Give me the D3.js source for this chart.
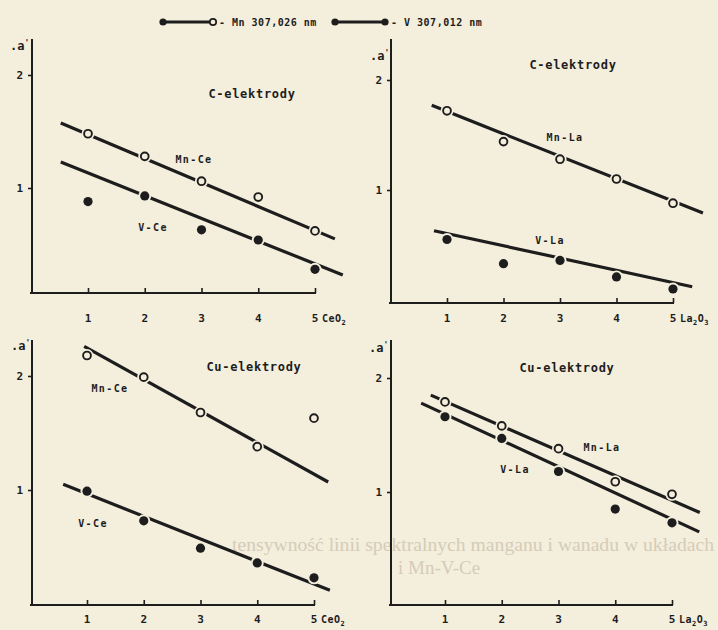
<!DOCTYPE html>
<html>
<head>
<meta charset="utf-8">
<script src="https://cdn.jsdelivr.net/npm/d3@7"></script>
<style>
  html, body { margin: 0; padding: 0; background: #f4eedc; }
  svg { display: block; }
  text { font-family: "DejaVu Sans Mono", monospace; font-weight: bold; fill: #1d1d1d; }
</style>
</head>
<body>
<script>
// values
var xValues = [1, 2, 3, 4, 5];
var yTicks = [1, 2];

var mnCeC  = [1.48, 1.28, 1.06, 0.92, 0.62];
var vCeC   = [0.88, 0.93, 0.63, 0.54, 0.28];
var mnLaC  = [1.72, 1.44, 1.28, 1.10, 0.88];
var vLaC   = [0.55, 0.33, 0.36, 0.21, 0.10];
var mnCeCu = [2.18, 1.99, 1.68, 1.38, 1.63];
var vCeCu  = [0.99, 0.73, 0.49, 0.36, 0.23];
var mnLaCu = [1.79, 1.58, 1.38, 1.09, 0.98];
var vLaCu  = [1.66, 1.47, 1.18, 0.85, 0.73];

// fitted straight lines, [x, y] at both ends
var mnCeCLine  = [[0.52, 1.575], [5.35, 0.55]];
var vCeCLine   = [[0.52, 1.23], [5.49, 0.23]];
var mnLaCLine  = [[0.73, 1.77], [5.53, 0.79]];
var vLaCLine   = [[0.77, 0.63], [5.34, 0.12]];
var mnCeCuLine = [[0.95, 2.26], [5.25, 1.07]];
var vCeCuLine  = [[0.58, 1.05], [5.28, 0.12]];
var mnLaCuLine = [[0.75, 1.85], [5.49, 0.82]];
var vLaCuLine  = [[0.58, 1.78], [5.48, 0.65]];

var legendLabels = ['- Mn 307,026 nm', '- V 307,012 nm'];

var w = 718, h = 630;
var ink = '#1d1d1d', paper = '#f4eedc';

var panels = [
  { xs: [88, 315], ys: [188, 75], ax: 32, top: 39, base: 293, labY: 322, oxide: ['CeO', '2'],
    title: 'C-elektrody', tpos: [252, 94],
    mn: mnCeC, v: vCeC, mnLine: mnCeCLine, vLine: vCeCLine,
    mnName: 'Mn-Ce', mnPos: [194, 159], vName: 'V-Ce', vPos: [153, 227], aPos: [10, 50] },
  { xs: [447, 673], ys: [190, 80], ax: 391, top: 39, base: 303, labY: 322, oxide: ['La', '2', 'O', '3'],
    title: 'C-elektrody', tpos: [573, 65],
    mn: mnLaC, v: vLaC, mnLine: mnLaCLine, vLine: vLaCLine,
    mnName: 'Mn-La', mnPos: [565, 137], vName: 'V-La', vPos: [550, 240], aPos: [370, 60] },
  { xs: [87, 314], ys: [490, 376], ax: 32, top: 340, base: 605, labY: 623, oxide: ['CeO', '2'],
    title: 'Cu-elektrody', tpos: [254, 367],
    mn: mnCeCu, v: vCeCu, mnLine: mnCeCuLine, vLine: vCeCuLine,
    mnName: 'Mn-Ce', mnPos: [110, 388], vName: 'V-Ce', vPos: [93, 523], aPos: [11, 350] },
  { xs: [445, 672], ys: [492, 378], ax: 391, top: 340, base: 605, labY: 623, oxide: ['La', '2', 'O', '3'],
    title: 'Cu-elektrody', tpos: [567, 368],
    mn: mnLaCu, v: vLaCu, mnLine: mnLaCuLine, vLine: vLaCuLine,
    mnName: 'Mn-La', mnPos: [602, 447], vName: 'V-La', vPos: [515, 469], aPos: [369, 352] }
];

var svg = d3.select(document.body)
            .append('svg')
            .attr('width', w)
            .attr('height', h);

svg.append('rect').attr('width', w).attr('height', h).attr('fill', paper);

// faint print-through from the facing page
var ghost = svg.append('g');
ghost.append('text')
    .attr('x', 232).attr('y', 551)
    .attr('textLength', 482)
    .attr('lengthAdjust', 'spacingAndGlyphs')
    .style('fill', '#d4ccb8')
    .style('font-family', '"Liberation Serif", serif')
    .style('font-weight', 'normal')
    .style('font-size', '19px')
    .text('tensywność linii spektralnych manganu i wanadu w układach');
ghost.append('text')
    .attr('x', 398).attr('y', 574)
    .style('fill', '#d4ccb8')
    .style('font-family', '"Liberation Serif", serif')
    .style('font-weight', 'normal')
    .style('font-size', '19px')
    .text('i Mn-V-Ce');

function marker(g, x, y, filled) {
    g.append('circle').attr('cx', x).attr('cy', y).attr('r', 6.5).attr('fill', paper);
    if (filled) {
        g.append('circle').attr('cx', x).attr('cy', y).attr('r', 4.6).attr('fill', ink);
    } else {
        g.append('circle').attr('cx', x).attr('cy', y).attr('r', 3.9)
            .attr('fill', paper).attr('stroke', ink).attr('stroke-width', 1.9);
    }
}

panels.forEach(function(p) {
    var g = svg.append('g');
    var x = d3.scaleLinear().domain([1, 5]).range(p.xs);
    var y = d3.scaleLinear().domain([1, 2]).range(p.ys);

    // axis lines
    g.append('line').attr('x1', p.ax).attr('x2', p.ax).attr('y1', p.top).attr('y2', p.base + 1)
        .attr('stroke', ink).attr('stroke-width', 2);
    g.append('line').attr('x1', p.ax - 2).attr('x2', x(5) + 1).attr('y1', p.base).attr('y2', p.base)
        .attr('stroke', ink).attr('stroke-width', 2);

    // x ticks (inward) and labels
    var xAxis = d3.axisBottom(x).tickValues(xValues).tickSize(-5).tickFormat('');
    var xg = g.append('g').attr('transform', 'translate(0,' + p.base + ')').call(xAxis);
    xg.select('.domain').remove();
    xg.selectAll('line').attr('stroke', ink).attr('stroke-width', 1.6);

    g.selectAll('text.xl').data(xValues).enter().append('text')
        .attr('class', 'xl')
        .attr('x', function(d) { return x(d); })
        .attr('y', p.labY)
        .attr('text-anchor', 'middle')
        .style('font-size', '11px')
        .text(function(d) { return d; });

    var ox = g.append('text').attr('x', x(5) + 7).attr('y', p.labY)
        .style('font-size', '10px').style('letter-spacing', '0.5px');
    p.oxide.forEach(function(s, i) {
        var sub = i % 2 === 1;
        ox.append('tspan').attr('dy', sub ? 3 : (i > 0 ? -3 : 0))
            .style('font-size', sub ? '7px' : '10px').text(s);
    });

    // y ticks
    var yAxis = d3.axisLeft(y).tickValues(yTicks).tickSize(4).tickFormat('');
    var yg = g.append('g').attr('transform', 'translate(' + p.ax + ',0)').call(yAxis);
    yg.select('.domain').remove();
    yg.selectAll('line').attr('stroke', ink).attr('stroke-width', 1.6);
    g.selectAll('text.yl').data(yTicks).enter().append('text')
        .attr('class', 'yl')
        .attr('x', p.ax - 9)
        .attr('y', function(d) { return y(d) + 4; })
        .attr('text-anchor', 'end')
        .style('font-size', '11px')
        .text(function(d) { return d; });

    var a = g.append('text').attr('x', p.aPos[0]).attr('y', p.aPos[1]).style('font-size', '12px');
    a.append('tspan').text('.a');
    a.append('tspan').attr('dy', -4).style('font-size', '8px').text("'");

    // fitted lines
    var line = d3.line().x(function(d) { return x(d[0]); }).y(function(d) { return y(d[1]); });
    [p.mnLine, p.vLine].forEach(function(l) {
        g.append('path').attr('d', line(l)).attr('fill', 'none')
            .attr('stroke', ink).attr('stroke-width', 3.2).attr('stroke-linecap', 'butt');
    });

    // points
    xValues.forEach(function(xv, i) {
        marker(g, x(xv), y(p.mn[i]), false);
        marker(g, x(xv), y(p.v[i]), true);
    });

    // labels
    g.append('text').attr('x', p.tpos[0]).attr('y', p.tpos[1] + 4).attr('text-anchor', 'middle')
        .style('font-size', '12px').style('letter-spacing', '0.7px').text(p.title);
    g.append('text').attr('x', p.mnPos[0]).attr('y', p.mnPos[1] + 4).attr('text-anchor', 'middle')
        .style('font-size', '10px').style('letter-spacing', '1.4px').text(p.mnName);
    g.append('text').attr('x', p.vPos[0]).attr('y', p.vPos[1] + 4).attr('text-anchor', 'middle')
        .style('font-size', '10px').style('letter-spacing', '1.4px').text(p.vName);
});

// legend
var lg = svg.append('g');
[[163, 213, false], [335, 385, true]].forEach(function(e, i) {
    lg.append('line').attr('x1', e[0]).attr('x2', e[1]).attr('y1', 22).attr('y2', 22)
        .attr('stroke', ink).attr('stroke-width', 3);
    lg.append('circle').attr('cx', e[0]).attr('cy', 22).attr('r', 3.6).attr('fill', ink);
    if (e[2]) {
        lg.append('circle').attr('cx', e[1]).attr('cy', 22).attr('r', 3.6).attr('fill', ink);
    } else {
        lg.append('circle').attr('cx', e[1]).attr('cy', 22).attr('r', 3.2)
            .attr('fill', paper).attr('stroke', ink).attr('stroke-width', 1.7);
    }
    lg.append('text').attr('x', e[1] + 6).attr('y', 26)
        .style('font-size', '10px').style('letter-spacing', '0.5px')
        .text(legendLabels[i]);
});
</script>
</body>
</html>
